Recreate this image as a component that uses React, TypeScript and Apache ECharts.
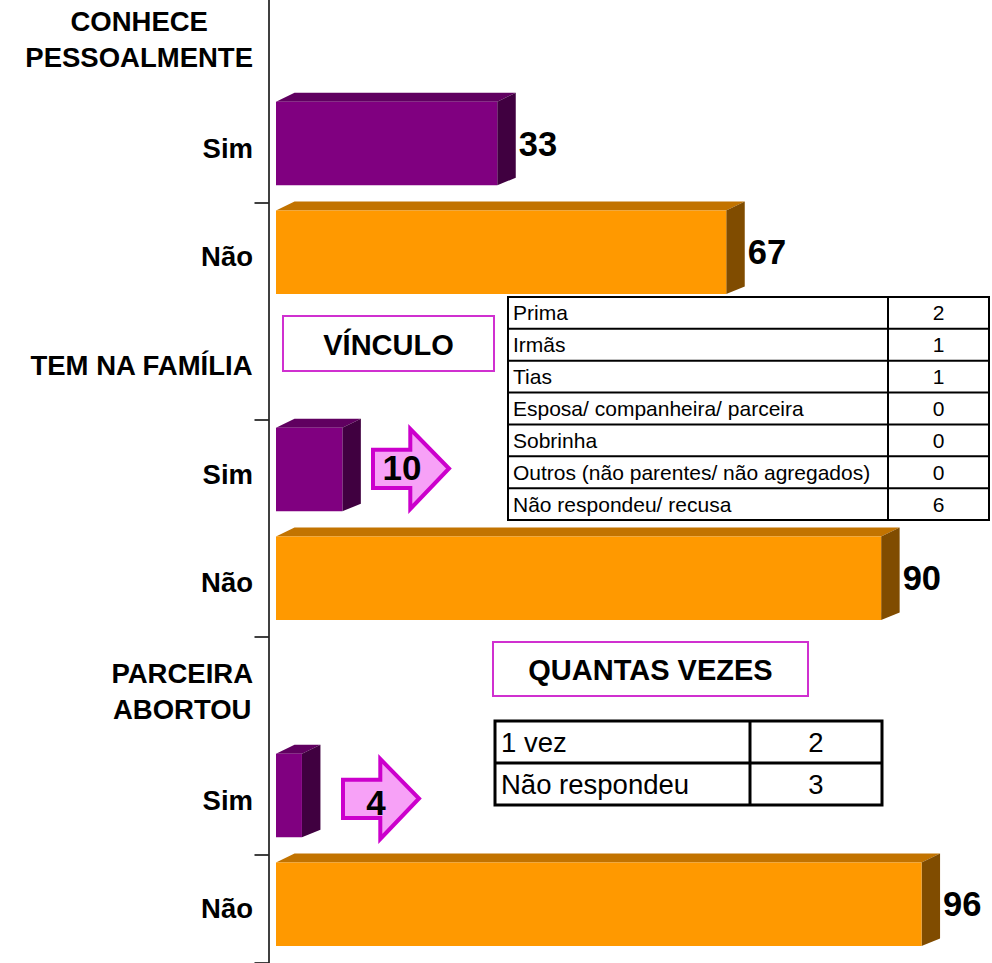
import React, { useEffect, useRef } from 'react';
import * as echarts from 'echarts';

const categories = ['CONHECE\nPESSOALMENTE', 'Sim', 'Não', 'TEM NA FAMÍLIA', 'Sim', 'Não', 'PARCEIRA\nABORTOU', 'Sim', 'Não'];
const simValues = [33, 10, 4];
const naoValues = [67, 90, 96];
const simRows = [1, 4, 7];
const naoRows = [2, 5, 8];
const simValueOnBar = [true, false, false];

const vinculoTitle = 'VÍNCULO';
const vinculoLabels = ['Prima', 'Irmãs', 'Tias', 'Esposa/ companheira/ parceira', 'Sobrinha', 'Outros (não parentes/ não agregados)', 'Não respondeu/ recusa'];
const vinculoValues = [2, 1, 1, 0, 0, 0, 6];
const vezesTitle = 'QUANTAS VEZES';
const vezesLabels = ['1 vez', 'Não respondeu'];
const vezesValues = [2, 3];

const FONT = 'Arial, "Liberation Sans", sans-serif';

const COLORS = [
  { front: '#800080', top: '#600060', side: '#400040' },
  { front: '#FF9900', top: '#C27300', side: '#804C00' },
];

function buildTable(x: number, y: number, w: number, col: number, rowH: number, labels: string[], values: number[], fontSize: number, lw: number, padL: number) {
  const els: any[] = [];
  const h = rowH * labels.length;
  els.push({ type: 'rect', z: 10, shape: { x, y, width: w, height: h }, style: { fill: '#fff', stroke: '#000', lineWidth: lw } });
  for (let i = 1; i < labels.length; i++) {
    els.push({ type: 'line', z: 11, shape: { x1: x, y1: y + i * rowH, x2: x + w, y2: y + i * rowH }, style: { stroke: '#000', lineWidth: lw } });
  }
  els.push({ type: 'line', z: 11, shape: { x1: col, y1: y, x2: col, y2: y + h }, style: { stroke: '#000', lineWidth: lw } });
  labels.forEach((l, i) => {
    els.push({ type: 'text', z: 12, x: x + padL, y: y + rowH * (i + 0.5), style: { text: l, fontSize, fontFamily: FONT, fill: '#000', align: 'left', verticalAlign: 'middle' } });
    els.push({ type: 'text', z: 12, x: (col + x + w) / 2, y: y + rowH * (i + 0.5), style: { text: String(values[i]), fontSize, fontFamily: FONT, fill: '#000', align: 'center', verticalAlign: 'middle' } });
  });
  return els;
}

function titleBox(x: number, y: number, w: number, h: number, text: string) {
  return [
    { type: 'rect', z: 10, shape: { x, y, width: w, height: h }, style: { fill: '#fff', stroke: '#D030D0', lineWidth: 2 } },
    { type: 'text', z: 12, x: x + w / 2, y: y + h / 2 + 1, style: { text, fontSize: 29, fontWeight: 'bold', fontFamily: FONT, fill: '#000', align: 'center', verticalAlign: 'middle' } },
  ];
}

function arrow(ox: number, oy: number, text: string, tx: number, ty: number) {
  const pts = [[2, 23.7], [39.3, 23.7], [39.3, 3], [78, 42.5], [39.3, 83], [39.3, 62], [2, 62]].map(p => [p[0] + ox, p[1] + oy]);
  return [
    { type: 'polygon', z: 10, shape: { points: pts }, style: { fill: '#F7A1F7', stroke: '#CC00CC', lineWidth: 4, lineJoin: 'miter' } },
    { type: 'text', z: 12, x: tx, y: ty, style: { text, fontSize: 35, fontWeight: 'bold', fontFamily: FONT, fill: '#000', align: 'center', verticalAlign: 'middle' } },
  ];
}

export default function App() {
  const ref = useRef<HTMLDivElement>(null);
  useEffect(() => {
    if (!ref.current) return;
    const chart = echarts.init(ref.current, undefined, { renderer: 'svg' });

    const data: any[] = [];
    simValues.forEach((v, i) => data.push({ value: [v, simRows[i], 0, simValueOnBar[i] ? 1 : 0] }));
    naoValues.forEach((v, i) => data.push({ value: [v, naoRows[i], 1, 1] }));

    const graphics: any[] = [
      ...titleBox(283, 316, 211, 55, vinculoTitle),
      ...buildTable(508, 297, 481, 888, 31.86, vinculoLabels, vinculoValues, 21, 2, 5),
      ...arrow(371, 426, String(simValues[1]), 402, 467),
      ...titleBox(493, 642, 315, 54, vezesTitle),
      ...buildTable(495, 721, 387, 750, 42, vezesLabels, vezesValues, 27.5, 3, 6),
      ...arrow(341, 756, String(simValues[2]), 376, 802),
    ];

    chart.setOption({
      animation: false,
      backgroundColor: '#fff',
      grid: { left: 275, right: 43.5, top: -15, bottom: 0, containLabel: false, outerBoundsMode: 'none' },
      xAxis: { type: 'value', min: 0, max: 100, show: false },
      yAxis: {
        type: 'category',
        inverse: true,
        data: categories,
        offset: 6.5,
        axisLine: { show: true, onZero: false, lineStyle: { color: '#000', width: 1.5 } },
        axisTick: { show: true, interval: 1, length: 14, lineStyle: { color: '#000', width: 1.5 } },
        splitLine: { show: false },
        axisLabel: {
          interval: 0,
          margin: 15.5,
          color: '#000',
          fontSize: 27.5,
          fontWeight: 'bold',
          fontFamily: FONT,
          formatter: (val: string) => val.split('\n').map(s => `{c|${s}}`).join('\n'),
          rich: { c: { align: 'center', fontSize: 27.5, fontWeight: 'bold', fontFamily: FONT, color: '#000', lineHeight: 36 } },
        },
      },
      series: [{
        type: 'custom',
        clip: false,
        encode: { x: 0, y: 1 },
        data,
        renderItem: (params: any, api: any) => {
          const v = api.value(0);
          const idx = api.value(1);
          const kind = api.value(2);
          const showLabel = api.value(3);
          const start = api.coord([0, idx]);
          const end = api.coord([v, idx]);
          const band = api.size([0, 1])[1];
          const h = band * 0.768;
          const cy = start[1] - band * 0.041;
          const top = cy - h / 2;
          const bottom = cy + h / 2;
          const x0 = start[0] + 1;
          const x1 = end[0];
          const dx = 18.5;
          const c = COLORS[kind];
          const children: any[] = [
            { type: 'polygon', shape: { points: [[x0, top], [x0 + dx, top - 9], [x1 + dx, top - 9], [x1, top]] }, style: { fill: c.top } },
            { type: 'polygon', shape: { points: [[x1, top], [x1 + dx, top - 9], [x1 + dx, bottom - 7.5], [x1, bottom]] }, style: { fill: c.side } },
            { type: 'rect', shape: { x: x0, y: top, width: x1 - x0, height: h }, style: { fill: c.front } },
          ];
          if (showLabel) {
            children.push({ type: 'text', x: x1 + dx + 3, y: cy, style: { text: String(v), fontSize: 34.5, fontWeight: 'bold', fontFamily: FONT, fill: '#000', align: 'left', verticalAlign: 'middle' } });
          }
          return { type: 'group', children };
        },
      }],
      graphic: { elements: graphics },
    });
    return () => chart.dispose();
  }, []);
  return <div ref={ref} style={{ position: 'fixed', left: 0, top: 0, width: 992, height: 963 }} />;
}
